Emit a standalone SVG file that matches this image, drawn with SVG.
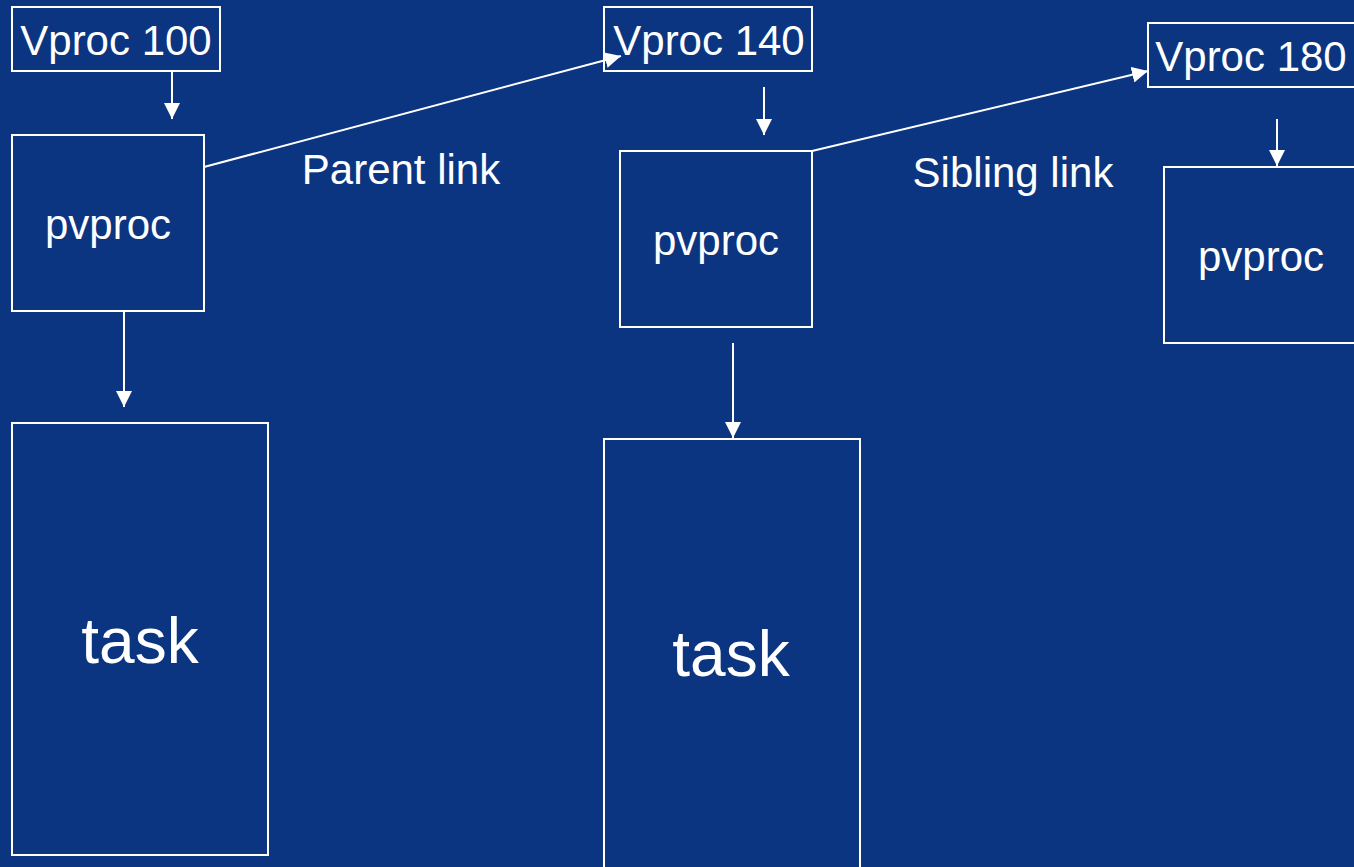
<svg xmlns="http://www.w3.org/2000/svg" width="1354" height="867" viewBox="0 0 1354 867">
<defs>
<style>
.box{fill:none;stroke:#ffffff;stroke-width:2}
.t{font-family:"Liberation Sans",Arial,sans-serif;fill:#ffffff;text-anchor:middle}
.s{font-size:42px}
.l{font-size:64px}
.c{stroke:#ffffff;stroke-width:2;fill:none;marker-end:url(#ah)}
</style>
<marker id="ah" markerUnits="userSpaceOnUse" markerWidth="16" markerHeight="16" viewBox="0 0 16 16" refX="16" refY="8" orient="auto">
<path d="M0,0 L16,8 L0,16 Z" fill="#ffffff"/>
</marker>
</defs>
<rect x="0" y="0" width="1354" height="867" fill="#0B3580"/>
<g id="vproc100"><rect class="box" x="12" y="7" width="208" height="64"/><text class="t s" x="116" y="55">Vproc 100</text></g>
<g id="pvproc1"><rect class="box" x="12" y="135" width="192" height="176"/><text class="t s" x="108" y="239">pvproc</text></g>
<g id="task1"><rect class="box" x="12" y="423" width="256" height="432"/><text class="t l" x="140" y="663">task</text></g>
<g id="vproc140"><rect class="box" x="604" y="7" width="208" height="64"/><text class="t s" x="709" y="55">Vproc 140</text></g>
<g id="pvproc2"><rect class="box" x="620" y="151" width="192" height="176"/><text class="t s" x="716" y="255">pvproc</text></g>
<g id="task2"><rect class="box" x="604" y="439" width="256" height="440"/><text class="t l" x="731" y="676">task</text></g>
<g id="vproc180"><rect class="box" x="1148" y="23" width="220" height="64"/><text class="t s" x="1251" y="71">Vproc 180</text></g>
<g id="pvproc3"><rect class="box" x="1164" y="167" width="210" height="176"/><text class="t s" x="1261" y="271">pvproc</text></g>
<g id="labels"><text class="t s" x="401" y="184">Parent link</text><text class="t s" x="1013" y="187">Sibling link</text></g>
<g id="connectors">
<line class="c" x1="172" y1="71" x2="172" y2="119"/>
<line class="c" x1="124" y1="311" x2="124" y2="407"/>
<line class="c" x1="764" y1="87" x2="764" y2="135"/>
<line class="c" x1="733" y1="343" x2="733" y2="438"/>
<line class="c" x1="1277" y1="119" x2="1277" y2="166"/>
<line class="c" x1="204" y1="167" x2="621" y2="56"/>
<line class="c" x1="812" y1="151" x2="1148" y2="71"/>
</g>
</svg>
